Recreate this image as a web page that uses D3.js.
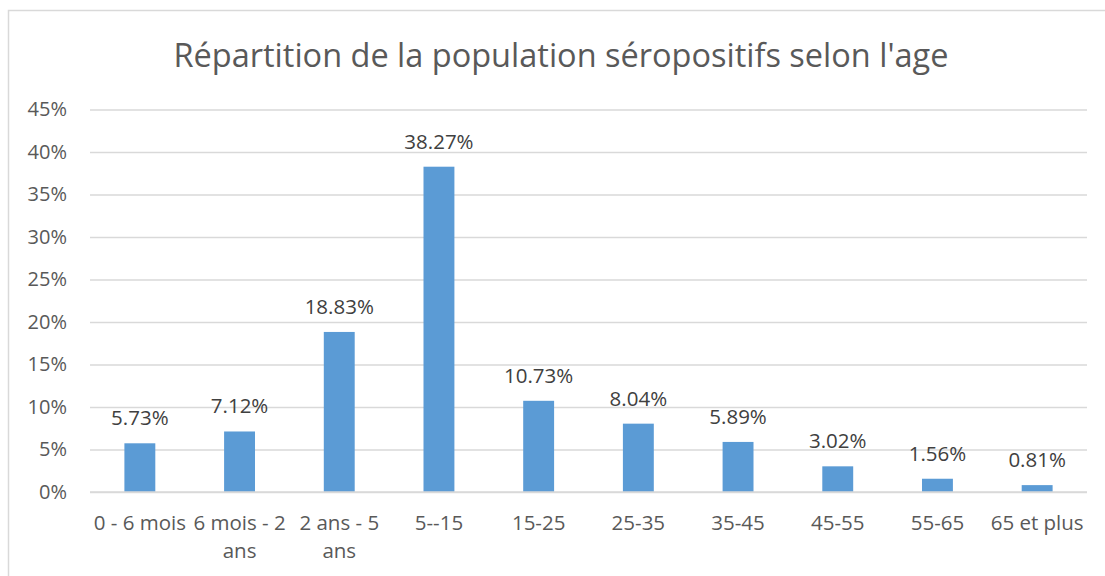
<!DOCTYPE html>
<html>
<head>
<meta charset="utf-8">
<script src="https://cdn.jsdelivr.net/npm/d3@7"></script>
<style>
  body { margin: 0; background: #fff; }
  text { font-family: "Open Sans", sans-serif; }
</style>
</head>
<body>
<script>
// data
var categories = ["0 - 6 mois", "6 mois - 2 ans", "2 ans - 5 ans", "5--15", "15-25",
                  "25-35", "35-45", "45-55", "55-65", "65 et plus"];
var values = [5.73, 7.12, 18.83, 38.27, 10.73, 8.04, 5.89, 3.02, 1.56, 0.81];
var yTicks = [0, 5, 10, 15, 20, 25, 30, 35, 40, 45];
var title = "Répartition de la population séropositifs selon l'age";

var w = 1105, h = 576;
var pLeft = 90, pRight = 1087, pTop = 109.5, pBottom = 492;

var svg = d3.select("body").append("svg")
    .attr("width", w).attr("height", h);

// chart frame
svg.append("rect")
    .attr("x", 8.5).attr("y", 10.5)
    .attr("width", w + 10).attr("height", h + 10)
    .attr("fill", "#fff").attr("stroke", "#d9d9d9").attr("stroke-width", 1.5);

var x = d3.scaleBand().domain(categories).range([pLeft, pRight]).paddingInner(0.69).paddingOuter(0.345);
var y = d3.scaleLinear().domain([0, 45]).range([pBottom, pTop]);

svg.append("text")
    .attr("x", 561).attr("y", 67)
    .attr("text-anchor", "middle")
    .style("font-size", "32.5px").style("fill", "#595959")
    .text(title);

// gridlines + y labels
var yAxis = svg.append("g")
    .attr("transform", "translate(" + pLeft + ",0)")
    .call(d3.axisLeft(y).tickValues(yTicks).tickSize(-(pRight - pLeft)).tickPadding(23)
      .tickFormat(function(d) { return d + "%" }));
yAxis.select(".domain").remove();
yAxis.selectAll("line").attr("stroke", "#d9d9d9").attr("stroke-width", 1.5);
yAxis.selectAll("text").style("font-size", "20px").style("fill", "#595959")
    .style("font-family", "Open Sans, sans-serif");

// bars
svg.selectAll("rect.bar")
    .data(values)
  .enter().append("rect")
    .attr("class", "bar")
    .attr("x", function(d, i) { return x(categories[i]) })
    .attr("width", x.bandwidth())
    .attr("y", function(d) { return y(d) })
    .attr("height", function(d) { return pBottom - y(d) })
    .attr("fill", "#5b9bd5");

// redraw baseline over bars
svg.append("line")
    .attr("x1", pLeft).attr("x2", pRight).attr("y1", pBottom).attr("y2", pBottom)
    .attr("stroke", "#d9d9d9").attr("stroke-width", 1.5);

// data labels
svg.selectAll("text.val")
    .data(values)
  .enter().append("text")
    .attr("class", "val")
    .attr("x", function(d, i) { return x(categories[i]) + x.bandwidth() / 2 })
    .attr("y", function(d) { return y(d) - 18 })
    .attr("text-anchor", "middle")
    .style("font-size", "20.5px").style("fill", "#404040")
    .text(function(d) { return d.toFixed(2) + "%" });

// category labels, wrapped to band step
var xl = svg.selectAll("text.cat")
    .data(categories)
  .enter().append("text")
    .attr("class", "cat")
    .attr("text-anchor", "middle")
    .attr("x", function(d) { return x(d) + x.bandwidth() / 2 })
    .attr("y", 530)
    .style("font-size", "20.5px").style("fill", "#595959");

xl.each(function(d) {
  var t = d3.select(this), words = d.split(" "), line = [], lines = [];
  var probe = t.append("tspan");
  words.forEach(function(wd) {
    line.push(wd);
    probe.text(line.join(" "));
    if (probe.node().getComputedTextLength() > x.step() + 6 && line.length > 1) {
      line.pop(); lines.push(line.join(" ")); line = [wd];
    }
  });
  lines.push(line.join(" "));
  probe.remove();
  var cx = t.attr("x");
  lines.forEach(function(l, i) {
    t.append("tspan").attr("x", cx).attr("dy", i ? 28 : 0).text(l);
  });
});
</script>
</body>
</html>
